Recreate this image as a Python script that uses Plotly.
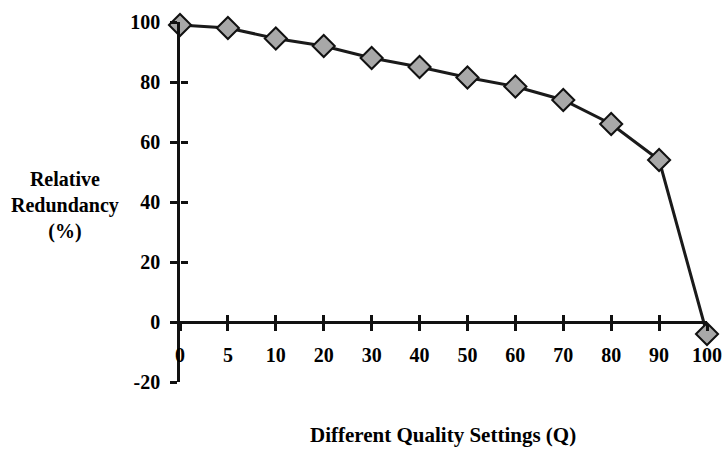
import plotly.graph_objects as go

quality_labels = ["0", "5", "10", "20", "30", "40", "50", "60", "70", "80", "90", "100"]
redundancy = [99, 98, 94.5, 92, 88, 85, 81.5, 78.5, 74, 66, 54, -4]
y_ticks = [-20, 0, 20, 40, 60, 80, 100]

idx = list(range(len(quality_labels)))
FONT = "Liberation Serif"

W, H = 725, 451
L, T = 180, 22
PW, PH = 527, 360

fig = go.Figure()
fig.add_trace(go.Scatter(
    x=idx, y=redundancy, mode="lines+markers",
    line=dict(color="#1a1a1a", width=3),
    marker=dict(symbol="diamond", size=17, color="#a8a8a8",
                line=dict(color="#111111", width=2)),
    cliponaxis=False, showlegend=False,
))

xr = [0, len(idx) - 1]
pos0 = 20 / 120
tf = dict(family=FONT, size=20, color="black", weight="bold")
fig.update_layout(
    width=W, height=H,
    margin=dict(l=L, r=W - L - PW, t=T, b=H - T - PH, autoexpand=False),
    paper_bgcolor="white", plot_bgcolor="white",
    font=dict(family=FONT, size=20, color="black"),
    xaxis=dict(range=xr, tickvals=idx, ticktext=quality_labels,
               anchor="free", position=pos0,
               showline=True, linecolor="#111", linewidth=2.5,
               ticks="outside", ticklen=7, tickwidth=2.5, tickcolor="#111",
               ticklabelstandoff=7, ticklabeloverflow="allow",
               showgrid=False, zeroline=False, tickfont=tf),
    xaxis2=dict(range=xr, tickvals=idx, overlaying="x",
                anchor="free", position=pos0, side="bottom",
                showline=False, ticks="inside", ticklen=7, tickwidth=2.5,
                tickcolor="#111", showticklabels=False, showgrid=False, zeroline=False),
    yaxis=dict(range=[-20, 100], tickvals=y_ticks, ticktext=[str(v) for v in y_ticks],
               showline=True, linecolor="#111", linewidth=2.5,
               ticks="outside", ticklen=7, tickwidth=2.5, tickcolor="#111",
               ticklabelstandoff=6, showgrid=False, zeroline=False,
               tickfont=tf),
    yaxis2=dict(range=[-20, 100], tickvals=y_ticks, overlaying="y",
                anchor="free", position=0, side="left", showline=False,
                ticks="inside", ticklen=7, tickwidth=2.5, tickcolor="#111",
                showticklabels=False, showgrid=False, zeroline=False),
)
fig.add_trace(go.Scatter(x=[idx[0]], y=[redundancy[0]], xaxis="x2", yaxis="y2",
                         mode="markers", marker=dict(opacity=0), showlegend=False,
                         hoverinfo="skip"))

fig.add_annotation(text="<b>Relative<br>Redundancy<br>(%)</b>", xref="paper", yref="paper",
                   x=(65 - L) / PW, y=(T + PH - 205) / PH, showarrow=False,
                   xanchor="center", yanchor="middle", align="center",
                   font=dict(family=FONT, size=20, color="black"))
fig.add_annotation(text="<b>Different Quality Settings (Q)</b>", xref="paper", yref="paper",
                   x=(443 - L) / PW, y=(T + PH - 435) / PH, showarrow=False,
                   xanchor="center", yanchor="middle",
                   font=dict(family=FONT, size=21, color="black"))

fig.write_html("out.html", config={"displayModeBar": False},
               post_script="document.body.style.margin='0';document.body.style.overflow='hidden';")
